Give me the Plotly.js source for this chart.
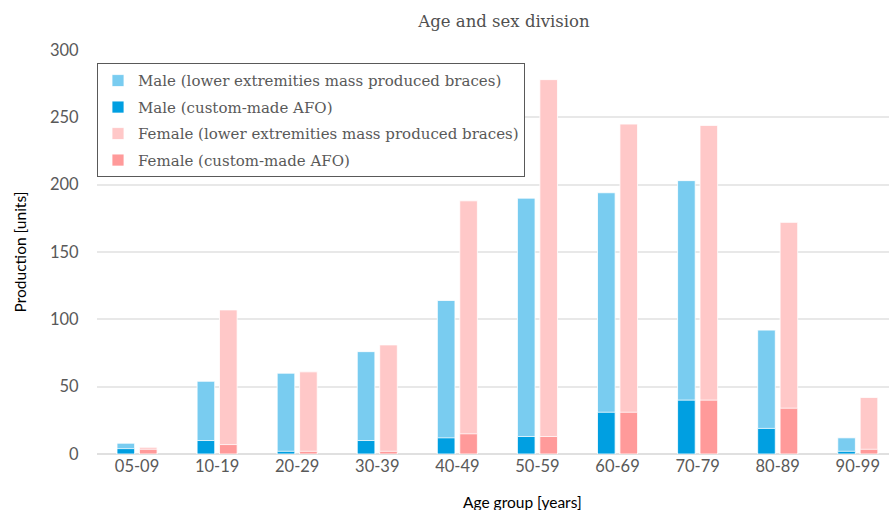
<!DOCTYPE html>
<html>
<head>
<meta charset="utf-8">
<script src="https://cdn.plot.ly/plotly-3.0.1.min.js"></script>
<style>html,body{margin:0;padding:0;background:#fff;overflow:hidden}#chart{width:889px;height:510px}</style>
</head>
<body>
<div id="chart"></div>
<script>
const categories = ["05-09","10-19","20-29","30-39","40-49","50-59","60-69","70-79","80-89","90-99"];
const maleMass = [8, 54, 60, 76, 114, 190, 194, 203, 92, 12];
const maleCustom = [4, 10, 2, 10, 12, 13, 31, 40, 19, 2];
const femaleMass = [5, 107, 61, 81, 188, 278, 245, 244, 172, 42];
const femaleCustom = [3.5, 7, 2, 2, 15, 13, 31, 40, 34, 3.5];
const seriesNames = [
  "Male (lower extremities mass produced braces)",
  "Male (custom-made AFO)",
  "Female (lower extremities mass produced braces)",
  "Female (custom-made AFO)"
];

const colors = ["#79CCF0", "#009FE1", "#FFC8C8", "#FF9A9A"];
const serieses = [maleMass, maleCustom, femaleMass, femaleCustom];
const offsets = [-0.25, -0.25, 0.03, 0.03];

const traces = serieses.map((vals, i) => ({
  type: "bar",
  x: categories,
  y: vals,
  name: seriesNames[i],
  legendgroup: "g" + i,
  width: 0.22,
  offset: offsets[i],
  marker: {color: colors[i], line: {color: "rgba(255,255,255,0.8)", width: 1}},
  hoverinfo: "x+y+name"
}));

const layout = {
  width: 889, height: 510,
  margin: {l: 97, r: 0, t: 50, b: 56},
  paper_bgcolor: "#fff", plot_bgcolor: "#fff",
  barmode: "overlay",
  showlegend: true,
  title: {
    text: "Age and sex division",
    x: 504 / 889, xref: "container", xanchor: "center",
    y: 1 - 21 / 510, yref: "container", yanchor: "middle",
    font: {family: "DejaVu Serif, serif", size: 16.5, color: "#505050"}
  },
  legend: {
    x: 0, y: 0.967, xanchor: "left", yanchor: "top",
    bgcolor: "#fff", bordercolor: "#595959", borderwidth: 1,
    font: {family: "DejaVu Serif, serif", size: 15, color: "#595959"},
    tracegroupgap: 4,
    traceorder: "grouped"
  },
  xaxis: {
    type: "category",
    range: [-0.5, 9.39],
    showgrid: false,
    zeroline: false,
    showline: false,
    ticks: "",
    tickfont: {family: "Lato, Open Sans, sans-serif", size: 16.5, color: "#595959"},
    fixedrange: true
  },
  yaxis: {
    range: [0, 300],
    dtick: 50,
    showgrid: true,
    gridcolor: "#E8E8E8",
    gridwidth: 2,
    zeroline: true,
    zerolinecolor: "#E0E0E0",
    zerolinewidth: 2,
    showline: false,
    ticks: "outside",
    ticklen: 14,
    tickcolor: "rgba(0,0,0,0)",
    tickfont: {family: "Lato, Open Sans, sans-serif", size: 16.5, color: "#595959"},
    title: {text: "Production [units]", standoff: 19, font: {family: "Lato, Open Sans, sans-serif", size: 15.5, color: "#000"}},
    fixedrange: true
  },
  annotations: [{
    text: "Age group [years]",
    xref: "paper", yref: "paper",
    x: (522 - 97) / 792, y: -0.118,
    xanchor: "center", yanchor: "middle",
    showarrow: false,
    font: {family: "Lato, Open Sans, sans-serif", size: 15.5, color: "#000"}
  }]
};

Plotly.newPlot("chart", traces, layout, {displayModeBar: false, staticPlot: true});
</script>
</body>
</html>
